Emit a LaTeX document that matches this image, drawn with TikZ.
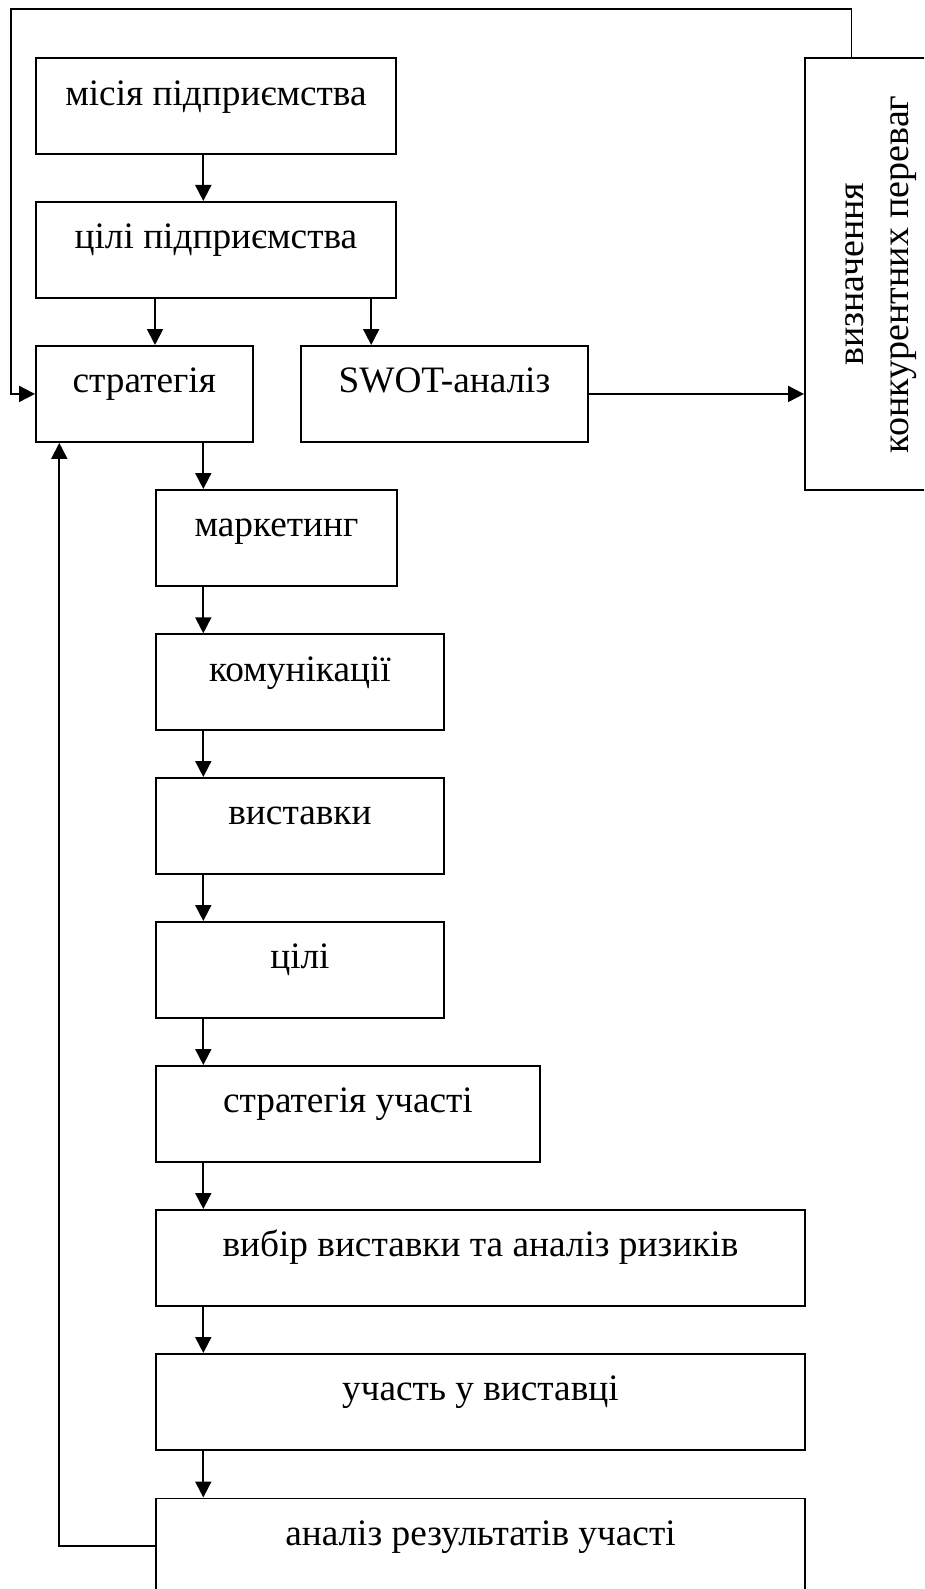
\documentclass[tikz,border=0pt]{standalone}
\usepackage{fontspec}
\setmainfont{Liberation Serif}
\usetikzlibrary{arrows.meta}
\begin{document}
\begin{tikzpicture}[x=1pt,y=-1pt,
  box/.style={draw,line width=1.9pt,inner sep=0pt,anchor=north west,
    text height=47pt,text depth=49pt,font=\fontsize{37.3}{45}\selectfont},
  arr/.style={line width=1.9pt,-{Triangle[length=16pt,width=16pt]}},
  ]
\useasboundingbox (0,0) rectangle (924,1589);
\clip (0,0) rectangle (924,1589);
% boxes
\node[box,minimum width=360pt] (m1) at (35,57.5) {місія підприємства};
\node[box,minimum width=360pt] (m2) at (35,201) {цілі підприємства};
\node[box,minimum width=216.7pt] (s) at (35,345) {стратегія};
\node[box,minimum width=287pt] (swot) at (300,345) {SWOT-аналіз};
\node[draw,line width=1.9pt,anchor=north west,inner sep=0pt,
  minimum width=144pt,minimum height=431.8pt] (k) at (804,57.5)
  {\rotatebox{90}{\fontsize{38}{45}\selectfont
   \begin{tabular}{@{}c@{}}визначення\\конкурентних переваг\end{tabular}}};
\node[box,minimum width=241pt] (mk) at (155,489) {маркетинг};
\node[box,minimum width=288pt] (kom) at (155,633.3) {комунікації};
\node[box,minimum width=288pt] (vys) at (155,777) {виставки};
\node[box,minimum width=288pt] (cili) at (155,921) {цілі};
\node[box,minimum width=384pt] (su) at (155,1065) {стратегія участі};
\node[box,minimum width=649pt] (vyb) at (155,1209) {вибір виставки та аналіз ризиків};
\node[box,minimum width=649pt] (uch) at (155,1353) {участь у виставці};
\node[box,minimum width=649pt] (an) at (155,1497.5) {аналіз результатів участі};
% connectors
\draw[arr] ([xshift=168.3pt]m1.south west) -- ([xshift=168.3pt]m2.north west);
\draw[arr] ([xshift=120pt]m2.south west) -- ([xshift=120pt]s.north west);
\draw[arr] ([xshift=336.2pt]m2.south west) -- ([xshift=71.2pt]swot.north west);
\draw[arr] (swot.east) -- (swot.east -| k.west);
\draw[arr] ([xshift=168.3pt]s.south west) -- ([xshift=48.3pt]mk.north west);
\draw[arr] ([xshift=48.3pt]mk.south west) -- ([xshift=48.3pt]kom.north west);
\draw[arr] ([xshift=48.3pt]kom.south west) -- ([xshift=48.3pt]vys.north west);
\draw[arr] ([xshift=48.3pt]vys.south west) -- ([xshift=48.3pt]cili.north west);
\draw[arr] ([xshift=48.3pt]cili.south west) -- ([xshift=48.3pt]su.north west);
\draw[arr] ([xshift=48.3pt]su.south west) -- ([xshift=48.3pt]vyb.north west);
\draw[arr] ([xshift=48.3pt]vyb.south west) -- ([xshift=48.3pt]uch.north west);
\draw[arr] ([xshift=48.3pt]uch.south west) -- ([xshift=48.3pt]an.north west);
\coordinate (tl) at (10.6,9.3);
\draw[arr] ([xshift=47.5pt]k.north west) |- (tl) |- (s.west);
\draw[arr] ([yshift=-48.5pt]an.north west) -| ([xshift=24.3pt]s.south west);
\end{tikzpicture}
\end{document}
